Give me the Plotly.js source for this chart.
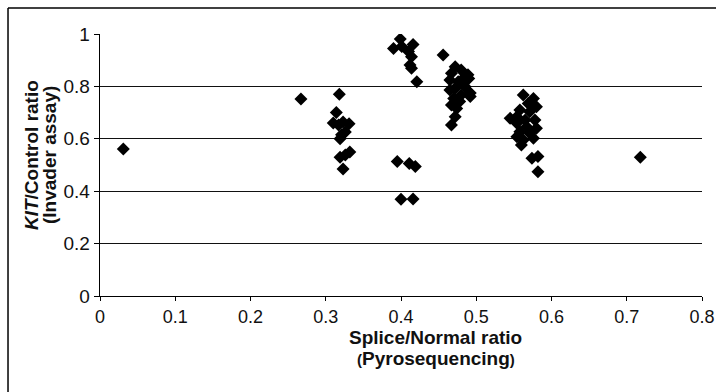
<!DOCTYPE html>
<html>
<head>
<meta charset="utf-8">
<script src="https://cdn.plot.ly/plotly-3.0.1.min.js"></script>
<style>
  html, body { margin: 0; padding: 0; background: #fff; }
  #chart { width: 716px; height: 392px; }
</style>
</head>
<body>
<div id="chart"></div>
<script>
// Splice/Normal ratio (Pyrosequencing)
const spliceNormalRatio = [
  0.031, 0.267, 0.718,
  0.318, 0.314, 0.310, 0.317, 0.323, 0.331, 0.326, 0.319, 0.321, 0.332, 0.319, 0.326, 0.323,
  0.399, 0.390, 0.401, 0.416, 0.410, 0.414, 0.412, 0.414, 0.421, 0.456,
  0.395, 0.411, 0.419, 0.400, 0.416,
  0.472, 0.480, 0.489, 0.467, 0.465, 0.476, 0.483, 0.485, 0.472, 0.465, 0.492, 0.480, 0.470, 0.467, 0.478, 0.474, 0.472, 0.467, 0.490, 0.492,
  0.5625, 0.576, 0.569, 0.580, 0.558, 0.571, 0.545, 0.554, 0.565, 0.578, 0.554, 0.567, 0.580, 0.558, 0.571, 0.554, 0.5625, 0.576, 0.560, 0.574, 0.582, 0.582
];
// KIT/Control ratio (Invader assay)
const kitControlRatio = [
  0.561, 0.752, 0.530,
  0.770, 0.700, 0.660, 0.653, 0.664, 0.657, 0.626, 0.600, 0.615, 0.550, 0.530, 0.538, 0.485,
  0.981, 0.945, 0.952, 0.960, 0.933, 0.913, 0.882, 0.869, 0.818, 0.920,
  0.513, 0.506, 0.494, 0.369, 0.370,
  0.875, 0.863, 0.844, 0.850, 0.824, 0.818, 0.831, 0.800, 0.793, 0.786, 0.761, 0.767, 0.754, 0.729, 0.742, 0.716, 0.684, 0.653, 0.830, 0.775,
  0.767, 0.754, 0.735, 0.722, 0.710, 0.703, 0.678, 0.684, 0.672, 0.672, 0.659, 0.646, 0.640, 0.627, 0.621, 0.608, 0.595, 0.602, 0.576, 0.526, 0.532, 0.474
];
const xTickValues = [0, 0.1, 0.2, 0.3, 0.4, 0.5, 0.6, 0.7, 0.8];
const xTickLabels = ['0', '0.1', '0.2', '0.3', '0.4', '0.5', '0.6', '0.7', '0.8'];
const yTickValues = [0, 0.2, 0.4, 0.6, 0.8, 1];
const yTickLabels = ['0', '0.2', '0.4', '0.6', '0.8', '1'];

const fontFamily = '"Liberation Sans", Arial, sans-serif';

const trace = {
  x: spliceNormalRatio,
  y: kitControlRatio,
  type: 'scatter',
  mode: 'markers',
  marker: { symbol: 'diamond', size: 10, color: '#000', line: { width: 0 } },
  hoverinfo: 'x+y',
  showlegend: false
};

const layout = {
  width: 716,
  height: 392,
  margin: { l: 100, r: 14, t: 34, b: 96 },
  paper_bgcolor: '#fff',
  plot_bgcolor: '#fff',
  font: { family: fontFamily, size: 18, color: '#111' },
  xaxis: {
    range: [0, 0.8],
    tickmode: 'array',
    tickvals: xTickValues,
    ticktext: xTickLabels,
    showgrid: false,
    zeroline: false,
    showline: true,
    linecolor: '#000',
    linewidth: 1.3,
    ticks: 'outside',
    ticklen: 4,
    tickcolor: '#000',
    tickfont: { family: fontFamily, size: 18, color: '#111' },
    fixedrange: true
  },
  yaxis: {
    range: [0, 1],
    tickmode: 'array',
    tickvals: yTickValues,
    ticktext: yTickLabels,
    showgrid: true,
    gridcolor: '#111',
    gridwidth: 1.3,
    zeroline: false,
    showline: true,
    linecolor: '#000',
    linewidth: 1.3,
    ticks: 'outside',
    ticklen: 5,
    tickcolor: '#000',
    tickfont: { family: fontFamily, size: 19, color: '#111' },
    fixedrange: true
  },
  annotations: [
    { text: '<b>Splice/Normal ratio</b>', xref: 'paper', yref: 'paper', x: 0.558, y: -0.157,
      xanchor: 'center', yanchor: 'middle', showarrow: false,
      font: { family: fontFamily, size: 19, color: '#111' } },
    { text: '<b><span style="font-size:15px">(</span>Pyrosequencing<span style="font-size:15px">)</span></b>', xref: 'paper', yref: 'paper', x: 0.558, y: -0.24,
      xanchor: 'center', yanchor: 'middle', showarrow: false,
      font: { family: fontFamily, size: 19, color: '#111' } },
    { text: '<b><i>KIT</i>/Control ratio</b>', xref: 'paper', yref: 'paper', x: -0.1146, y: 0.538,
      xanchor: 'center', yanchor: 'middle', textangle: -90, showarrow: false,
      font: { family: fontFamily, size: 19, color: '#111' } },
    { text: '<b>(Invader assay)</b>', xref: 'paper', yref: 'paper', x: -0.0847, y: 0.538,
      xanchor: 'center', yanchor: 'middle', textangle: -90, showarrow: false,
      font: { family: fontFamily, size: 19, color: '#111' } }
  ],
  shapes: [
    { type: 'line', xref: 'paper', yref: 'paper', x0: -0.1528, y0: 1.0992, x1: 1.2, y1: 1.0992,
      line: { color: '#000', width: 1.5 } },
    { type: 'line', xref: 'paper', yref: 'paper', x0: -0.1528, y0: 1.0992, x1: -0.1528, y1: -0.6,
      line: { color: '#000', width: 1.5 } }
  ]
};

Plotly.newPlot('chart', [trace], layout, { displayModeBar: false, staticPlot: true });
</script>
</body>
</html>
